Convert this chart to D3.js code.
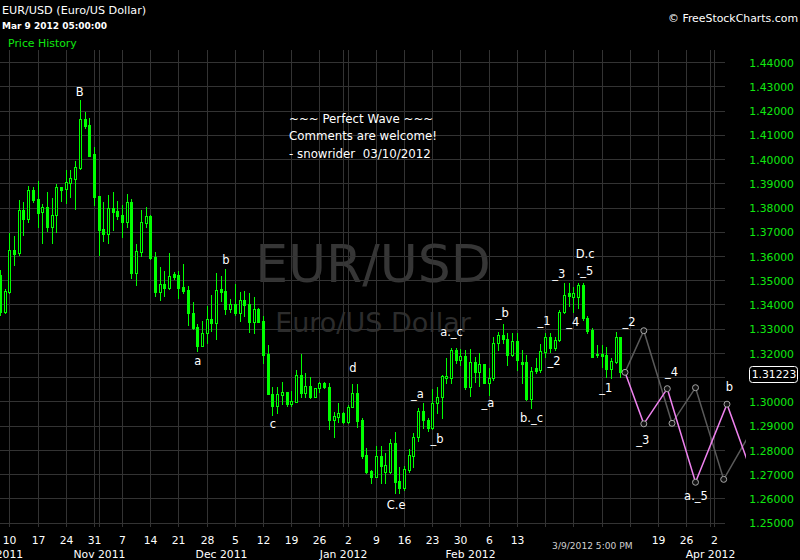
<!DOCTYPE html>
<html><head><meta charset="utf-8">
<script src="https://cdn.jsdelivr.net/npm/d3@7"></script>
<style>html,body{margin:0;padding:0;background:#000;} svg{display:block;} .pre{white-space:pre;}</style>
</head><body><svg id="c" width="800" height="560"></svg>
<script>
// ---------------- DATA ----------------
const startDate = "2011-10-07"; // first candle (trading days skip Saturdays)
const opens = [1.3524,1.3372,1.3455,1.3627,1.3613,1.3792,1.3756,1.3874,1.3836,1.3782,
1.3804,1.3723,1.3770,1.3887,1.3877,1.3904,1.3921,1.3966,1.4166,1.4142,
1.4023,1.3849,1.3713,1.3694,1.3800,1.3788,1.3771,1.3744,1.3825,1.3533,
1.3620,1.3739,1.3767,1.3599,1.3455,1.3487,1.3471,1.3527,1.3524,1.3473,
1.3462,1.3366,1.3311,1.3232,1.3283,1.3342,1.3327,1.3466,1.3459,1.3384,
1.3404,1.3368,1.3421,1.3404,1.3331,1.3384,1.3335,1.3198,1.3033,1.2985,
1.3030,1.3041,1.2992,1.3001,1.3111,1.3038,1.3066,1.3022,1.3057,1.3077,
1.3063,1.2926,1.2939,1.2956,1.2919,1.2978,1.3038,1.2926,1.2781,1.2716,
1.2692,1.2777,1.2713,1.2713,1.2830,1.2674,1.2644,1.2720,1.2778,1.2854,
1.2963,1.2926,1.2894,1.2995,1.3019,1.3100,1.3100,1.3214,1.3173,1.3190,
1.3063,1.3166,1.3125,1.3157,1.3080,1.3098,1.3242,1.3276,1.3259,1.3194,
1.3252,1.3164,1.3164,1.3011,1.3139,1.3132,1.3207,1.3269,1.3221,1.3256,
1.3372,1.3448,1.3432,1.3432,1.3482,1.3345,1.3297,1.3198,1.3197,1.3194,
1.3135,1.3166,1.3267];
const highs = [1.3544,1.3465,1.3696,1.3685,1.3833,1.3825,1.3891,1.3885,1.3911,1.3817,
1.3865,1.3841,1.3899,1.3887,1.3957,1.3957,1.3994,1.4245,1.4196,1.4171,
1.4052,1.3849,1.3825,1.3854,1.3866,1.3829,1.3812,1.3858,1.3837,1.3652,
1.3792,1.3804,1.3771,1.3619,1.3558,1.3540,1.3614,1.3536,1.3540,1.3569,
1.3478,1.3414,1.3322,1.3335,1.3396,1.3441,1.3533,1.3520,1.3548,1.3425,
1.3487,1.3455,1.3458,1.3451,1.3432,1.3388,1.3355,1.3235,1.3061,1.3063,
1.3081,1.3041,1.3044,1.3132,1.3198,1.3118,1.3104,1.3058,1.3084,1.3084,
1.3077,1.2960,1.2997,1.2959,1.2988,1.3074,1.3074,1.2933,1.2809,1.2720,
1.2819,1.2819,1.2791,1.2846,1.2878,1.2733,1.2736,1.2805,1.2873,1.2974,
1.2995,1.2933,1.3052,1.3061,1.3111,1.3180,1.3221,1.3221,1.3217,1.3214,
1.3217,1.3187,1.3203,1.3157,1.3139,1.3269,1.3290,1.3322,1.3283,1.3283,
1.3283,1.3214,1.3194,1.3146,1.3180,1.3238,1.3283,1.3286,1.3269,1.3379,
1.3490,1.3490,1.3475,1.3490,1.3490,1.3355,1.3304,1.3235,1.3235,1.3228,
1.3180,1.3290,1.3267];
const lows = [1.3359,1.3368,1.3450,1.3565,1.3606,1.3687,1.3744,1.3826,1.3723,1.3654,
1.3706,1.3657,1.3702,1.3830,1.3822,1.3847,1.3797,1.3960,1.4131,1.4014,
1.3814,1.3606,1.3665,1.3657,1.3711,1.3753,1.3682,1.3723,1.3513,1.3482,
1.3602,1.3723,1.3588,1.3437,1.3421,1.3437,1.3465,1.3506,1.3430,1.3451,
1.3318,1.3301,1.3212,1.3231,1.3242,1.3293,1.3260,1.3418,1.3363,1.3372,
1.3358,1.3335,1.3355,1.3290,1.3283,1.3330,1.3162,1.3032,1.2946,1.2956,
1.2993,1.2985,1.2985,1.3001,1.3022,1.3022,1.3015,1.3022,1.3042,1.3057,
1.2889,1.2857,1.2919,1.2915,1.2912,1.2978,1.2898,1.2768,1.2708,1.2667,
1.2692,1.2665,1.2665,1.2706,1.2626,1.2626,1.2637,1.2713,1.2733,1.2840,
1.2892,1.2882,1.2887,1.2956,1.2933,1.3080,1.3080,1.3162,1.3153,1.3052,
1.3025,1.3084,1.3066,1.3077,1.3029,1.3091,1.3214,1.3242,1.3153,1.3190,
1.3132,1.3077,1.3008,1.2977,1.3118,1.3125,1.3187,1.3207,1.3214,1.3253,
1.3366,1.3396,1.3372,1.3386,1.3338,1.3286,1.3184,1.3187,1.3146,1.3104,
1.3098,1.3160,1.3102];
const closes = [1.3372,1.3459,1.3627,1.3610,1.3792,1.3756,1.3874,1.3833,1.3781,1.3803,
1.3723,1.3771,1.3885,1.3874,1.3907,1.3924,1.3968,1.4166,1.4139,1.4014,
1.3847,1.3711,1.3693,1.3800,1.3785,1.3767,1.3744,1.3825,1.3533,1.3623,
1.3741,1.3767,1.3593,1.3455,1.3487,1.3471,1.3520,1.3517,1.3471,1.3458,
1.3366,1.3304,1.3231,1.3283,1.3341,1.3327,1.3462,1.3455,1.3384,1.3404,
1.3368,1.3421,1.3400,1.3331,1.3384,1.3331,1.3194,1.3032,1.2985,1.3033,
1.3041,1.2992,1.3004,1.3111,1.3038,1.3066,1.3022,1.3058,1.3077,1.3061,
1.2926,1.2942,1.2956,1.2919,1.2981,1.3038,1.2923,1.2777,1.2713,1.2692,
1.2777,1.2736,1.2740,1.2830,1.2671,1.2644,1.2722,1.2781,1.2857,1.2964,
1.2926,1.2894,1.2997,1.3022,1.3107,1.3107,1.3214,1.3173,1.3190,1.3061,
1.3166,1.3125,1.3157,1.3080,1.3098,1.3245,1.3276,1.3259,1.3194,1.3252,
1.3173,1.3155,1.3011,1.3128,1.3129,1.3210,1.3269,1.3221,1.3256,1.3372,
1.3441,1.3438,1.3448,1.3482,1.3345,1.3294,1.3187,1.3193,1.3191,1.3135,
1.3169,1.3267,1.31223];

const priceTicks = [1.25,1.26,1.27,1.28,1.29,1.30,1.31,1.32,1.33,1.34,1.35,1.36,1.37,1.38,1.39,1.40,1.41,1.42,1.43,1.44];
const dayTickDates = ["2011-10-10","2011-10-17","2011-10-24","2011-10-31","2011-11-07","2011-11-14","2011-11-21","2011-11-28",
"2011-12-05","2011-12-12","2011-12-19","2011-12-26","2012-01-02","2012-01-09","2012-01-16","2012-01-23","2012-01-30",
"2012-02-06","2012-02-13","2012-02-20","2012-02-27","2012-03-05","2012-03-12","2012-03-19","2012-03-26","2012-04-02"];
const dayTickLabels = ["10","17","24","31","7","14","21","28","5","12","19","26","2","9","16","23","30","6","13","20","27","5","12","19","26","2"];
const monthDates = ["2011-10-07","2011-11-01","2011-12-01","2012-01-01","2012-02-01","2012-03-01","2012-04-01"];
const monthLabels = ["Oct 2011","Nov 2011","Dec 2011","Jan 2012","Feb 2012","Mar 2012","Apr 2012"];
const monthGridDates = ["2011-11-01","2012-01-01","2012-04-01"];

// projected waves (slot index after start, price)
const pinkSlots = [133,137,142,148,154.7,160.5];
const pinkPrices = [1.31223,1.2910,1.3055,1.2669,1.2991,1.2679];
const graySlots = [133,137,143,148,154,160];
const grayPrices = [1.31223,1.3294,1.2912,1.3059,1.2681,1.2884];

const annText = ["B","b","a","c","d","C.e","_a","_b","a._c","_b","_a","b._c","_1","_3","D.c","._5","_4","_2","_2","_1","_3","_4","a._5","b"];
const annSlot = [17.0,48.1,42.1,58.1,75.1,84.3,88.85,93.0,96.1,106.9,103.85,113.1,115.8,118.9,124.5,124.5,121.9,117.9,133.85,128.9,136.8,142.9,148.1,155.2];
const annPrice = [1.4278,1.3586,1.3170,1.2909,1.3140,1.2575,1.3033,1.2846,1.3290,1.3367,1.2994,1.2933,1.3336,1.3528,1.3610,1.3541,1.3331,1.3169,1.3331,1.3059,1.2843,1.3125,1.2612,1.3061];

const commentLines = ["~~~ Perfect Wave ~~~","Comments are welcome!","- snowrider  03/10/2012"];

// ---------------- DRAW ----------------
const FONT = "'DejaVu Sans', Verdana, sans-serif";
const GREEN = "#00ff00";
const svg = d3.select("#c");
svg.append("rect").attr("width",800).attr("height",560).attr("fill","#000");

const plot = {left:0, right:746, top:50, bottom:527, gridRight:725};
const x = d3.scaleLinear().domain([0,1]).range([-0.1,4.6]);
const y = d3.scaleLinear().domain([1.25,1.44]).range([523.25,62.5]);

function dayIndex(ds){
  const s = Date.parse(startDate), e = Date.parse(ds);
  if (e <= s) return 0;
  let n = 0;
  for (let t = s + 864e5; t <= e; t += 864e5) { if (new Date(t).getUTCDay() !== 6) n++; }
  return n;
}
const px = i => Math.round(x(i));
const py = v => Math.round(y(v));

svg.append("defs").append("clipPath").attr("id","plotclip")
  .append("rect").attr("x",plot.left).attr("y",plot.top)
  .attr("width",plot.right-plot.left).attr("height",plot.bottom-plot.top);

// watermark
const cxMid = (plot.left+plot.right)/2;
svg.append("text").attr("x",cxMid).attr("y",282).attr("text-anchor","middle")
  .attr("font-family",FONT).attr("font-size",52).attr("fill","#363636").text("EUR/USD");
svg.append("text").attr("x",cxMid).attr("y",332).attr("text-anchor","middle")
  .attr("font-family",FONT).attr("font-size",27).attr("fill","#2c2c2c").text("Euro/US Dollar");

// grid
const grid = svg.append("g").attr("stroke","#333").attr("stroke-width",1).attr("shape-rendering","crispEdges");
grid.selectAll("line.h").data(priceTicks).join("line").attr("class","h")
  .attr("x1",plot.left).attr("x2",plot.gridRight)
  .attr("y1",d=>Math.floor(y(d))+0.5).attr("y2",d=>Math.floor(y(d))+0.5);
const vDates = dayTickDates.concat(monthGridDates);
grid.selectAll("line.v").data(vDates).join("line").attr("class","v")
  .attr("x1",d=>px(dayIndex(d))+0.5).attr("x2",d=>px(dayIndex(d))+0.5)
  .attr("y1",plot.top).attr("y2",plot.bottom);

// candles
const idx = d3.range(opens.length);
const cg = svg.append("g").attr("clip-path","url(#plotclip)").attr("shape-rendering","crispEdges");
cg.selectAll("line.w").data(idx).join("line").attr("class","w")
  .attr("x1",i=>px(i)+0.5).attr("x2",i=>px(i)+0.5)
  .attr("y1",i=>py(highs[i])).attr("y2",i=>py(lows[i])+1)
  .attr("stroke",GREEN).attr("stroke-width",1);
cg.selectAll("rect.dn").data(idx.filter(i=>closes[i]<opens[i])).join("rect").attr("class","dn")
  .attr("x",i=>px(i)-1).attr("width",3)
  .attr("y",i=>py(opens[i]))
  .attr("height",i=>Math.max(py(closes[i])-py(opens[i]),1)+1)
  .attr("fill",GREEN);
cg.selectAll("rect.up").data(idx.filter(i=>closes[i]>=opens[i])).join("rect").attr("class","up")
  .attr("x",i=>px(i)-0.5).attr("width",2)
  .attr("y",i=>py(closes[i])+0.5)
  .attr("height",i=>Math.max(py(opens[i])-py(closes[i]),1))
  .attr("fill","#000").attr("stroke",GREEN).attr("stroke-width",1);

// projections
const pg = svg.append("g").attr("clip-path","url(#plotclip)");
const line = d3.line().x(d=>x(d[0])).y(d=>y(d[1]));
const grayPts = graySlots.map((s,k)=>[s,grayPrices[k]]);
const pinkPts = pinkSlots.map((s,k)=>[s,pinkPrices[k]]);
pg.append("path").attr("d",line(grayPts)).attr("fill","none").attr("stroke","#5a5a5a").attr("stroke-width",1.5);
pg.append("path").attr("d",line(pinkPts)).attr("fill","none").attr("stroke","#ee82ee").attr("stroke-width",1.5);
const circ = grayPts.slice(1,5).concat(pinkPts.slice(0,5));
pg.selectAll("circle").data(circ).join("circle")
  .attr("cx",d=>x(d[0])).attr("cy",d=>y(d[1])).attr("r",3)
  .attr("fill","#111").attr("stroke","#a8a8a8").attr("stroke-width",1);

// annotations
svg.append("g").selectAll("text").data(annText).join("text")
  .attr("x",(d,k)=>x(annSlot[k])).attr("y",(d,k)=>y(annPrice[k])+4)
  .attr("text-anchor","middle").attr("font-family",FONT).attr("font-size",11.5)
  .attr("fill","#fff").text(d=>d);

// comments
svg.append("g").selectAll("text").data(commentLines).join("text")
  .attr("class","pre").attr("xml:space","preserve")
  .attr("x",289).attr("y",(d,k)=>122.5+k*17.5)
  .attr("font-family",FONT).attr("font-size",11.8).attr("fill","#fff").text(d=>d);

// y axis labels
svg.append("g").selectAll("text").data(priceTicks).join("text")
  .attr("x",794).attr("y",d=>y(d)+4)
  .attr("text-anchor","end").attr("font-family",FONT).attr("font-size",10.8)
  .attr("fill","#10e810").text(d=>d.toFixed(5));

// last price box
const lastClose = closes[closes.length-1];
const ly = y(lastClose)+2;
svg.append("rect").attr("x",749.5).attr("y",Math.round(ly-8)+0.5).attr("width",48).attr("height",16)
  .attr("rx",3).attr("fill","#000").attr("stroke","#fff").attr("stroke-width",1);
svg.append("text").attr("x",774).attr("y",ly+4).attr("text-anchor","middle")
  .attr("font-family",FONT).attr("font-size",10.8).attr("fill","#fff").text(lastClose.toFixed(5));

// x axis: crosshair date label
const lastIdx = closes.length-1;
const chX = x(lastIdx) - 28;
const chText = svg.append("text").attr("x",chX).attr("y",549).attr("text-anchor","middle")
  .attr("font-family",FONT).attr("font-size",9.1).attr("fill","#d0d0d0").text("3/9/2012 5:00 PM");
const chBox = chText.node().getBBox();
const overlaps = (cx, w) => !(cx + w/2 < chBox.x - 4 || cx - w/2 > chBox.x + chBox.width + 4);

dayTickDates.forEach((d,k)=>{
  const cx = px(dayIndex(d))+0.5;
  const t = svg.append("text").attr("x",cx).attr("y",544).attr("text-anchor","middle")
    .attr("font-family",FONT).attr("font-size",10.8).attr("fill","#fff").text(dayTickLabels[k]);
  const w = t.node().getComputedTextLength();
  if (overlaps(cx,w)) t.remove();
});
monthDates.forEach((d,k)=>{
  const cx = k===0 ? x(0)-1.5 : px(dayIndex(d))+0.5;
  const t = svg.append("text").attr("x",cx).attr("y",557.5).attr("text-anchor","middle")
    .attr("font-family",FONT).attr("font-size",10.8).attr("fill","#fff").text(monthLabels[k]);
  const w = t.node().getComputedTextLength();
  if (overlaps(cx,w)) t.remove();
});

// header texts
svg.append("text").attr("x",2).attr("y",14).attr("font-family",FONT).attr("font-size",11.2)
  .attr("fill","#fff").text("EUR/USD (Euro/US Dollar)");
svg.append("text").attr("x",2).attr("y",29).attr("font-family",FONT).attr("font-size",9).attr("font-weight","bold")
  .attr("fill","#fff").text("Mar 9 2012 05:00:00");
svg.append("text").attr("x",8).attr("y",46.5).attr("font-family",FONT).attr("font-size",10.9)
  .attr("fill","#10e810").text("Price History");
svg.append("text").attr("x",798).attr("y",21.5).attr("text-anchor","end").attr("font-family",FONT).attr("font-size",10.9)
  .attr("fill","#fff").text("\u00A9 FreeStockCharts.com");
</script>
</body></html>
